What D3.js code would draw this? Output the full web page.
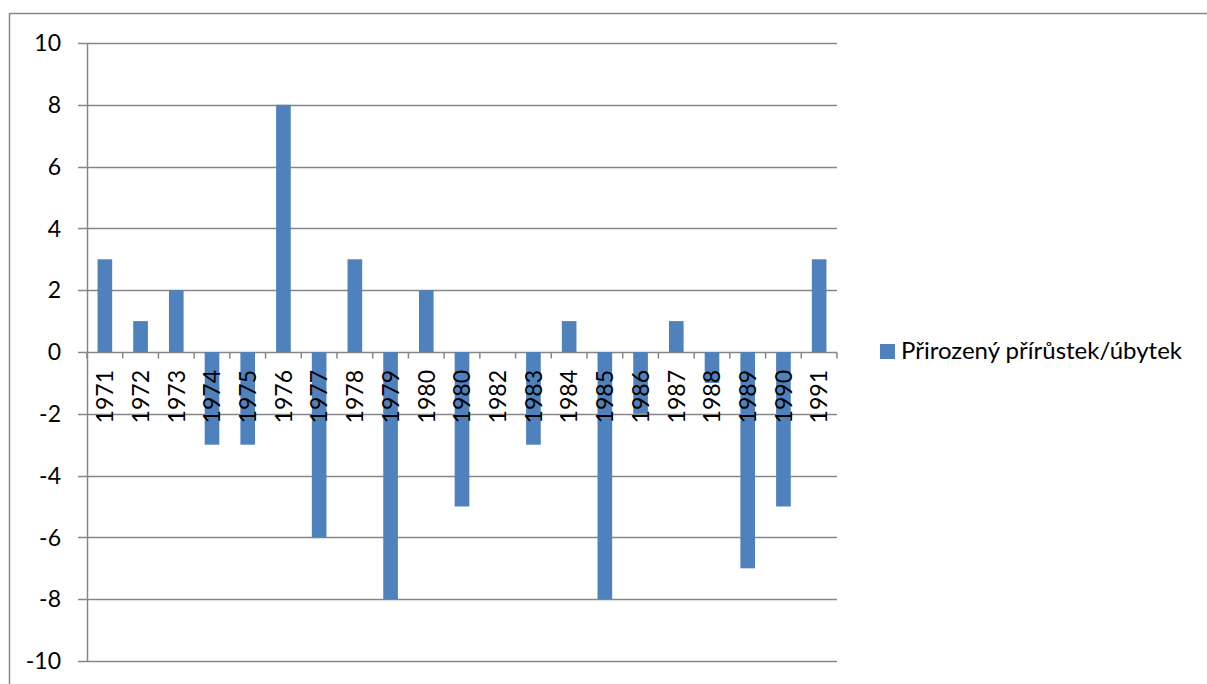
<!DOCTYPE html>
<html>
<head>
<meta charset="utf-8">
<script src="https://cdnjs.cloudflare.com/ajax/libs/d3/7.8.5/d3.min.js"></script>
<style>
  html, body { margin: 0; padding: 0; background: #fff; }
  svg { display: block; font-family: Lato, "Open Sans", "Liberation Sans", sans-serif; }
</style>
</head>
<body>
<svg id="chart"></svg>
<script>
// data (1980 appears twice in the source labels)
var years = ["1971","1972","1973","1974","1975","1976","1977","1978","1979","1980",
             "1980","1982","1983","1984","1985","1986","1987","1988","1989","1990","1991"];
var values = [3, 1, 2, -3, -3, 8, -6, 3, -8, 2, -5, 0, -3, 1, -8, -2, 1, -1, -7, -5, 3];
var yTicks = [10, 8, 6, 4, 2, 0, -2, -4, -6, -8, -10];
var seriesName = "Přirozený přírůstek/úbytek";

var width = 1207, height = 684;
var plotL = 87, plotR = 837, plotT = 43, plotB = 661;
var gray = "#868686", barColor = "#4F81BD";

var svg = d3.select("#chart").attr("width", width).attr("height", height);

// outer chart border
svg.append("rect")
  .attr("x", 9.5).attr("y", 13.5)
  .attr("width", width + 20).attr("height", height + 20)
  .style("fill", "none").style("stroke", gray).style("stroke-width", "1.5px");

var idx = d3.range(years.length);
var x = d3.scaleBand().domain(idx).range([plotL, plotR]).paddingInner(0.59).paddingOuter(0.295);
var xStep = d3.scaleBand().domain(idx).range([plotL, plotR]);
var y = d3.scaleLinear().domain([-10, 10]).range([plotB, plotT]);

// horizontal gridlines
svg.append("g").selectAll("line")
  .data(yTicks)
  .enter().append("line")
    .attr("x1", plotL - 9).attr("x2", plotR)
    .attr("y1", function(d) { return Math.round(y(d)) + 0.5; })
    .attr("y2", function(d) { return Math.round(y(d)) + 0.5; })
    .style("stroke", gray).style("stroke-width", "1.5px");

// y tick labels
svg.append("g").selectAll("text")
  .data(yTicks)
  .enter().append("text")
    .attr("x", 61)
    .attr("y", function(d) { return y(d); })
    .attr("dy", "0.36em")
    .attr("text-anchor", "end")
    .style("font-size", "23px")
    .style("fill", "#000")
    .text(function(d) { return d; });

// y axis line
svg.append("line")
  .attr("x1", plotL + 0.5).attr("x2", plotL + 0.5)
  .attr("y1", plotT).attr("y2", plotB)
  .style("stroke", gray).style("stroke-width", "1.5px");

// bars
svg.append("g").selectAll("rect")
  .data(values)
  .enter().append("rect")
    .attr("x", function(d, i) { return x(i); })
    .attr("width", x.bandwidth())
    .attr("y", function(d) { return y(Math.max(0, d)); })
    .attr("height", function(d) { return Math.abs(y(d) - y(0)); })
    .style("fill", barColor);

// x axis tick marks
var y0 = Math.round(y(0)) + 0.5;
svg.append("g").selectAll("line")
  .data(d3.range(years.length + 1))
  .enter().append("line")
    .attr("x1", function(i) { return plotL + i * xStep.step(); })
    .attr("x2", function(i) { return plotL + i * xStep.step(); })
    .attr("y1", y0).attr("y2", y0 + 6)
    .style("stroke", gray).style("stroke-width", "1.5px");

// x category labels
svg.append("g").selectAll("text")
  .data(years)
  .enter().append("text")
    .attr("transform", function(d, i) {
      return "translate(" + (xStep(i) + xStep.bandwidth() / 2) + "," + 370 + ") rotate(-90)";
    })
    .attr("dy", "0.36em")
    .attr("text-anchor", "end")
    .style("font-size", "23px")
    .style("fill", "#000")
    .text(function(d) { return d; });

// legend
var legend = svg.append("g").attr("transform", "translate(880,344)");
legend.append("rect")
  .attr("width", 15).attr("height", 15)
  .style("fill", barColor);
legend.append("text")
  .attr("x", 21).attr("y", 15)
  .style("font-size", "24px")
  .style("fill", "#000")
  .text(seriesName);
</script>
</body>
</html>
